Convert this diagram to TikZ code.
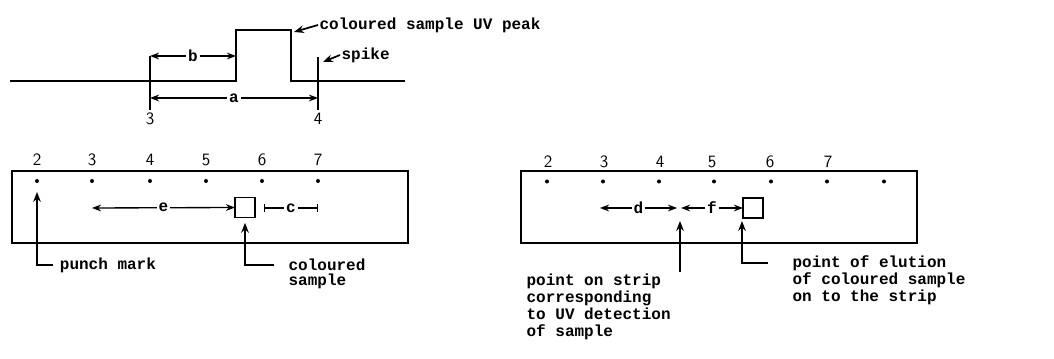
\documentclass[tikz,border=0pt]{standalone}
\usepackage{fontspec}
\setmonofont{Liberation Mono}
\usetikzlibrary{arrows.meta, positioning}

\begin{document}
\begin{tikzpicture}[
    x=0.75pt, y=-0.75pt,
    every node/.style={font=\ttfamily\bfseries\fontsize{12}{12.75}\selectfont, inner sep=1pt},
    digit/.style={font=\sffamily\fontsize{13}{14}\selectfont},
    trace/.style={line width=1.1pt},
    stripbox/.style={draw, line width=1.5pt, inner sep=0pt, outer sep=0pt, minimum width=297pt, minimum height=54pt},
    samplebox/.style={draw, line width=1.3pt, inner sep=0pt, outer sep=0pt, minimum size=15pt},
    dimline/.style={line width=1pt, {Stealth[length=2.4mm, width=1.8mm]}-{Stealth[length=2.4mm, width=1.8mm]}},
    pointer/.style={line width=1.3pt, -{Stealth[length=2.6mm, width=2mm]}},
    gap/.style={fill=white, inner sep=1.5pt}
]
\useasboundingbox (0,0) rectangle (1054,359);

% chromatogram trace
\draw[trace] (10,81) -- (236,81) -- (236,30) -- (291,30) -- (291,81) -- (405,81);
\draw[line width=1.4pt] (150,56) -- (150,110);
\draw[line width=1.4pt] (318,57) -- (318,110);
\node[digit] (mk3) at (150,119) {3};
\node[digit] (mk4) at (318,119) {4};

\draw[dimline] (150,56) -- node[gap] {b} (236,56);
\draw[dimline] (150,98) -- node[gap] {a} (318,98);

\node[anchor=west] (peaklbl) at (318,25) {coloured sample UV peak};
\node[anchor=west] (spikelbl) at (340,55) {spike};
\draw[pointer] (peaklbl.west) -- (294,32);
\draw[pointer] (spikelbl.west) -- (323,62);

% left strip
\node[stripbox] (stripL) at (209.5,207) {};
\foreach \n/\x in {2/37, 3/92, 4/150, 5/206, 6/262, 7/318} {
    \node[digit] (numL\n) at (\x,160) {\n};
    \fill (\x,181) circle (2);
}
\node[samplebox] (sampL) at (245,207.5) {};
\draw[dimline] (92,208) -- node[gap] {e} (sampL.west);
\draw[line width=1pt, {Bar[width=2.2mm]}-{Bar[width=2.2mm]}] (264,208) -- node[gap] {c} (318,208);

\node[anchor=west, inner sep=5pt] (punch) at (53,265) {punch mark};
\draw[pointer] (punch.west) -| (37,192);
\node[anchor=west] (colL1) at (287,265) {coloured};
\node[below=0pt of colL1.south west, anchor=north west] (colL2) {sample};
\draw[pointer, shorten >=4pt] ([xshift=-10pt]colL1.west) -| (sampL.south);

% right strip
\node[stripbox] (stripR) at (719,207) {};
\foreach \n/\x in {2/548, 3/604, 4/660, 5/712, 6/770, 7/828} {
    \node[digit] (numR\n) at (\x,162) {\n};
}
\foreach \x in {547, 603, 659, 714, 771, 827, 884} {
    \fill (\x,181.5) circle (2);
}
\node[samplebox] (sampR) at (753,208) {};
\draw[dimline] (600,208) -- node[gap] {d} (677,208);
\draw[dimline] (681,208) -- node[gap] {f} (sampR.west);

\node[anchor=north west, align=left] (uvlbl) at (525,272) {point on strip\\corresponding\\to UV detection\\of sample};
\draw[pointer] (uvlbl.north west -| 680,0) -- (680,221);

\node[anchor=north west, align=left] (elulbl) at (791,254) {point of elution\\of coloured sample\\on to the strip};
\coordinate (eluEnd) at (768,263);
\draw[pointer] (eluEnd) -| (742,221);

\end{tikzpicture}
\end{document}
